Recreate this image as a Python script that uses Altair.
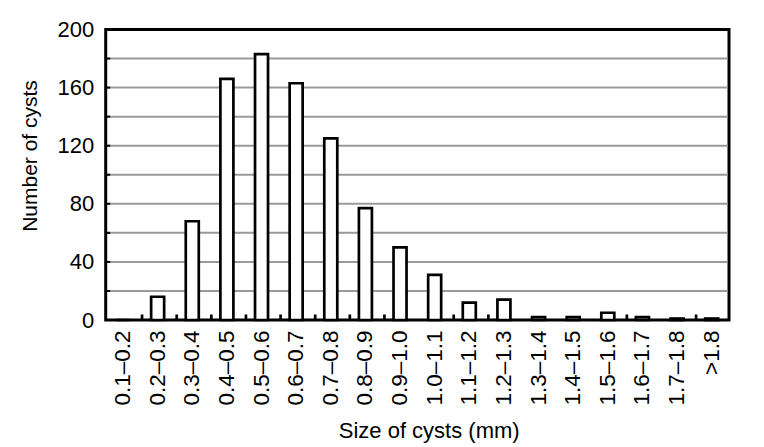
import altair as alt
import pandas as pd

categories = ["0.1–0.2", "0.2–0.3", "0.3–0.4", "0.4–0.5", "0.5–0.6", "0.6–0.7",
              "0.7–0.8", "0.8–0.9", "0.9–1.0", "1.0–1.1", "1.1–1.2", "1.2–1.3",
              "1.3–1.4", "1.4–1.5", "1.5–1.6", "1.6–1.7", "1.7–1.8", ">1.8"]
counts = [0, 16, 68, 166, 183, 163, 125, 77, 50, 31, 12, 14, 2, 2, 5, 2, 1, 1]
y_labels = [0, 40, 80, 120, 160, 200]
grid_levels = [20, 40, 60, 80, 100, 120, 140, 160, 180]
y_tick_levels = [0, 20, 40, 60, 80, 100, 120, 140, 160, 180, 200]
# category boundaries where the inward x-axis tick marks are visible
x_tick_cats = ["0.2–0.3", "0.3–0.4", "0.4–0.5", "0.5–0.6", "0.6–0.7", "0.7–0.8",
               "0.8–0.9", "0.9–1.0", "1.1–1.2", "1.2–1.3", "1.6–1.7", ">1.8"]

W = 623.3
H = 290.5
FONT = "Liberation Sans"

df = pd.DataFrame({"size": categories, "count": counts})
grid_df = pd.DataFrame({"level": grid_levels})
ytick_df = pd.DataFrame({"level": y_tick_levels})
xtick_df = pd.DataFrame({"size": x_tick_cats})

xscale = alt.Scale(domain=categories)
yscale = alt.Scale(domain=[0, 200], nice=False, zero=True)

x_axis = alt.Axis(
    title="Size of cysts (mm)", labelAngle=270, labelAlign="right", labelBaseline="middle",
    labelPadding=10, ticks=False, domain=False, grid=False, labelOverlap=False,
    labelFont=FONT, labelFontSize=22.5, labelColor="black",
    titleFont=FONT, titleFontSize=22, titleColor="black", titleFontWeight="normal",
    titleX=323, titleY=117.5, titleBaseline="alphabetic", titleAlign="center")
y_axis = alt.Axis(
    title="Number of cysts", values=y_labels, ticks=False, domain=False, grid=False,
    labelPadding=12, labelFont=FONT, labelFontSize=22, labelColor="black",
    titleFont=FONT, titleFontSize=21, titleColor="black", titleFontWeight="normal",
    titleAngle=270, titleX=-69, titleY=126, titleBaseline="alphabetic", titleAlign="center")

grid = alt.Chart(grid_df).mark_rule(color="#9a9a9a", strokeWidth=2).encode(
    x=alt.value(1.5), x2=alt.value(W - 1.5),
    y=alt.Y("level:Q", scale=yscale, axis=y_axis),
)

bars = alt.Chart(df).mark_bar(size=13, fill="white", stroke="black", strokeWidth=2.7).encode(
    x=alt.X("size:N", scale=xscale, sort=categories, axis=x_axis),
    y=alt.Y("count:Q", scale=yscale, axis=y_axis),
)

yticks = alt.Chart(ytick_df).mark_rule(color="black", strokeWidth=2).encode(
    x=alt.value(0), x2=alt.value(4.5),
    y=alt.Y("level:Q", scale=yscale, axis=y_axis),
)

xticks = alt.Chart(xtick_df).mark_rule(color="black", strokeWidth=2.7).encode(
    x=alt.X("size:N", scale=xscale, sort=categories, bandPosition=0, axis=x_axis),
    y=alt.value(H), y2=alt.value(H - 5.5),
)

chart = alt.layer(grid, bars, xticks, yticks).properties(
    width=W, height=H,
    autosize=alt.AutoSizeParams(type="none"),
    padding={"left": 97.7, "top": 21.5, "right": 27, "bottom": 126},
    background="white",
).configure_view(stroke="black", strokeWidth=3)

chart.save("out.html", embed_options={"renderer": "svg", "actions": False})
